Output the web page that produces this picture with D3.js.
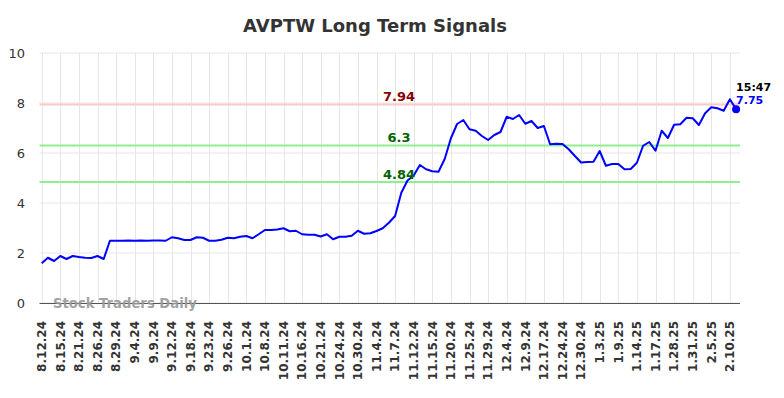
<!DOCTYPE html>
<html>
<head>
<meta charset="utf-8">
<script src="https://cdn.jsdelivr.net/npm/d3@7"></script>
<style>
html,body{margin:0;padding:0;background:#fff;}
svg{display:block;font-family:"DejaVu Sans",sans-serif;}
</style>
</head>
<body>
<svg id="chart" width="784" height="398"></svg>
<script>
const title = "AVPTW Long Term Signals";
const tickLabels = ["8.12.24","8.15.24","8.21.24","8.26.24","8.29.24","9.4.24","9.9.24","9.12.24","9.18.24","9.23.24","9.26.24","10.1.24","10.8.24","10.11.24","10.16.24","10.21.24","10.24.24","10.30.24","11.4.24","11.7.24","11.12.24","11.15.24","11.20.24","11.25.24","11.29.24","12.4.24","12.9.24","12.17.24","12.24.24","12.30.24","1.3.25","1.9.25","1.14.25","1.17.25","1.28.25","1.31.25","2.5.25","2.10.25"];
const pointsPerTick = 3;
const values = [1.59,1.81,1.68,1.88,1.76,1.88,1.84,1.81,1.80,1.88,1.76,2.49,2.49,2.49,2.50,2.49,2.50,2.49,2.50,2.50,
2.49,2.63,2.59,2.52,2.52,2.63,2.61,2.49,2.49,2.53,2.61,2.59,2.65,2.68,2.59,2.75,2.92,2.92,2.94,2.99,
2.87,2.89,2.75,2.73,2.73,2.66,2.75,2.55,2.65,2.65,2.69,2.89,2.77,2.79,2.88,2.99,3.21,3.48,4.41,4.90,
5.10,5.52,5.35,5.27,5.25,5.76,6.59,7.16,7.32,6.95,6.89,6.68,6.52,6.72,6.84,7.45,7.36,7.52,7.17,7.28,
7.00,7.08,6.35,6.37,6.36,6.15,5.88,5.62,5.64,5.65,6.08,5.49,5.56,5.56,5.35,5.36,5.61,6.29,6.44,6.09,
6.89,6.60,7.13,7.15,7.41,7.39,7.12,7.59,7.83,7.79,7.69,8.15,7.75];
const yTicks = [0,2,4,6,8,10];
const levels = [
  {value:7.94, line:"#ffc8c8", text:"#8b0000"},
  {value:6.3, line:"#90ee90", text:"#006400"},
  {value:4.84, line:"#90ee90", text:"#006400"}
];
const lastTime = "15:47";
const lastLabel = "7.75";
const watermark = "Stock Traders Daily";

const svg = d3.select("#chart");
const plotLeft = 39.5, plotRight = 740, plotTop = 53, plotBottom = 303;
const x = d3.scaleLinear().domain([0, values.length-1]).range([41.7, 736.1]);
const y = d3.scaleLinear().domain([0,10]).range([plotBottom, plotTop]);

// title
svg.append("text").attr("x", 375).attr("y", 32).attr("text-anchor","middle")
  .attr("font-size", 18).attr("font-weight","bold").attr("fill","#333").text(title);

// horizontal grid
svg.append("g").selectAll("line").data(yTicks).join("line")
  .attr("x1", plotLeft).attr("x2", plotRight)
  .attr("y1", d=>y(d)).attr("y2", d=>y(d))
  .attr("stroke","#e6e6e6").attr("stroke-width",1);

// vertical grid
const tickIdx = tickLabels.map((d,i)=>i*pointsPerTick);
svg.append("g").selectAll("line").data(tickIdx).join("line")
  .attr("x1", d=>Math.round(x(d))+0.5).attr("x2", d=>Math.round(x(d))+0.5)
  .attr("y1", plotTop).attr("y2", plotBottom)
  .attr("stroke","#e6e6e6").attr("stroke-width",1);

// y labels
svg.append("g").selectAll("text").data(yTicks).join("text")
  .attr("x", 25).attr("y", d=>y(d)).attr("dy","0.35em").attr("text-anchor","end")
  .attr("font-size",13).attr("fill","#333").text(d=>d);

// x labels
svg.append("g").selectAll("text").data(tickLabels).join("text")
  .attr("transform",(d,i)=>`translate(${x(tickIdx[i])},321) rotate(-90)`)
  .attr("dy","0.35em").attr("text-anchor","end")
  .attr("font-size",12).attr("font-weight","bold").attr("fill","#333").text(d=>d);

// level lines
svg.append("g").selectAll("line").data(levels).join("line")
  .attr("x1", plotLeft).attr("x2", plotRight)
  .attr("y1", d=>y(d.value)).attr("y2", d=>y(d.value))
  .attr("stroke", d=>d.line).attr("stroke-width",2);

// axis line
svg.append("line").attr("x1",plotLeft).attr("x2",plotRight)
  .attr("y1",plotBottom+0.5).attr("y2",plotBottom+0.5)
  .attr("stroke","#555").attr("stroke-width",1);

// watermark
svg.append("text").attr("x",53).attr("y",307.5)
  .attr("font-size",13.2).attr("font-weight","bold").attr("fill","#999").attr("opacity",0.9)
  .text(watermark);

// line
svg.append("path").datum(values)
  .attr("d", d3.line().x((d,i)=>x(i)).y(d=>y(d)))
  .attr("fill","none").attr("stroke","#0000ff").attr("stroke-width",2)
  .attr("stroke-linejoin","round");

// level labels
svg.append("g").selectAll("text").data(levels).join("text")
  .attr("x", 399).attr("y", d=>y(d.value)-3.5).attr("text-anchor","middle")
  .attr("font-size",13).attr("font-weight","bold").attr("fill", d=>d.text)
  .text(d=>String(d.value));

// last point
const li = values.length-1;
svg.append("circle").attr("cx",x(li)).attr("cy",y(values[li])).attr("r",4).attr("fill","#0000ff");
svg.append("text").attr("x",x(li)).attr("y",91).attr("font-size",11).attr("font-weight","bold")
  .attr("fill","#000").text(lastTime);
svg.append("text").attr("x",x(li)).attr("y",103.5).attr("font-size",11).attr("font-weight","bold")
  .attr("fill","#0000ff").text(lastLabel);
</script>
</body>
</html>
